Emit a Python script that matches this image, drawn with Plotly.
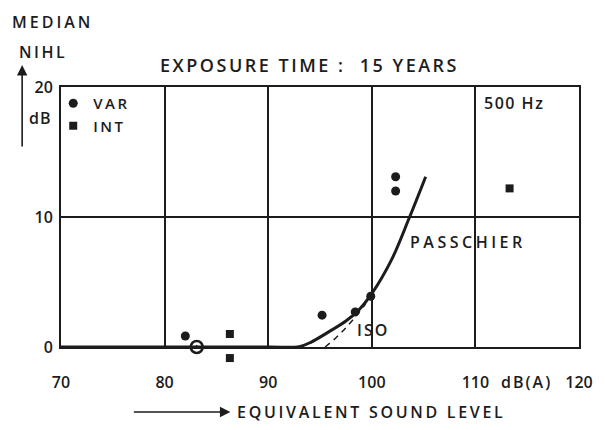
import plotly.graph_objects as go

# Median noise-induced hearing loss at 500 Hz after 15 years of exposure
var_x = [82.0, 95.2, 98.4, 99.9, 102.3, 102.3]
var_y = [0.85, 2.45, 2.7, 3.9, 13.1, 12.0]

int_x = [86.3, 86.3, 113.3]
int_y = [1.0, -0.85, 12.2]

# coinciding VAR/INT observation on the zero line
both_x = [83.1]
both_y = [0.0]

# Passchier prediction curve
passchier_x = [70, 90, 93.0, 94.2, 95.6, 97.5, 98.75, 100.0, 101.9, 103.6, 105.2]
passchier_y = [0, 0, 0.03, 0.4, 1.05, 2.0, 2.85, 4.1, 6.7, 9.9, 13.1]

# ISO prediction curve
iso_x = [95.5, 96.4, 97.3, 98.3, 99.4]
iso_y = [0.0, 0.6, 1.3, 2.2, 3.3]

x_ticks = [70, 80, 90, 100, 110, 120]
y_ticks = [0, 10, 20]

X_RANGE = [70, 120]
Y_RANGE = [0, 20]

INK = "#1c1c1c"
FONT = "Open Sans"
WEIGHT = 600

W, H = 605, 430
LEFT, RIGHT = 61, 581
# Frame occupies the upper part of the plotting area; the strip below the
# frame belongs to an invisible data axis with the same scale, so points
# just under the zero line are still drawn.
PLOT_TOP, FRAME_BOTTOM, AREA_BOTTOM = 87, 347, 369
d = (AREA_BOTTOM - FRAME_BOTTOM) / (AREA_BOTTOM - PLOT_TOP)
y_span = Y_RANGE[1] - Y_RANGE[0]
data_y_range = [Y_RANGE[0] - y_span * d / (1 - d), Y_RANGE[1]]


def px(x):
    return (x - LEFT) / (RIGHT - LEFT)


def py(y):
    return (AREA_BOTTOM - y) / (AREA_BOTTOM - PLOT_TOP)


def spaced(text, sp):
    return f'<span style="letter-spacing:{sp}px">{text}</span>'


fig = go.Figure()

data_axes = dict(xaxis="x2", yaxis="y3")

fig.add_trace(go.Scatter(
    x=passchier_x, y=passchier_y, mode="lines",
    line=dict(color=INK, width=3, shape="spline", smoothing=1.0),
    showlegend=False, hoverinfo="skip", **data_axes,
))
fig.add_trace(go.Scatter(
    x=iso_x, y=iso_y, mode="lines",
    line=dict(color=INK, width=1.5, dash="6px,5px"),
    showlegend=False, hoverinfo="skip", **data_axes,
))
fig.add_trace(go.Scatter(
    x=var_x, y=var_y, mode="markers", name=spaced("VAR", 2.5),
    marker=dict(symbol="circle", size=9, color=INK), **data_axes,
))
fig.add_trace(go.Scatter(
    x=int_x, y=int_y, mode="markers", name=spaced("INT", 2.5),
    marker=dict(symbol="square", size=8, color=INK), **data_axes,
))
fig.add_trace(go.Scatter(
    x=both_x, y=both_y, mode="markers", showlegend=False,
    marker=dict(symbol="circle-open-dot", size=12, color=INK,
                line=dict(color=INK, width=2.5)), **data_axes,
))


def label(text, x, y, size=16, xref="paper", yref="paper",
          xanchor="center", spacing=2.0):
    return dict(text=spaced(text, spacing), xref=xref, yref=yref, x=x, y=y,
                xanchor=xanchor, yanchor="middle", showarrow=False,
                font=dict(size=size))


annotations = [
    label("EXPOSURE TIME :  15 YEARS", px(310), py(65), size=18, spacing=2.5),
    label("MEDIAN", px(10), py(22), xanchor="left", spacing=3.0),
    label("NIHL", px(17), py(52), xanchor="left", spacing=2.5),
    label("dB", px(40), py(118), spacing=1.0),
    label("500 Hz", 110.6, 18.8, size=16, xref="x", yref="y",
          xanchor="left", spacing=1.5),
    label("PASSCHIER", 109.3, 8.1, xref="x", yref="y", spacing=3.5),
    label("ISO", 98.4, 1.3, xref="x", yref="y", xanchor="left", spacing=2.0),
    label("dB(A)", 114.9, py(382), xref="x", spacing=2.0),
    label("EQUIVALENT SOUND LEVEL", px(236), py(412), xanchor="left",
          spacing=2.7),
    # axis direction arrows
    dict(text="", xref="paper", yref="paper", x=px(231), y=py(412),
         ax=-98, ay=0, showarrow=True, arrowhead=2, arrowsize=1.3,
         arrowwidth=1.6, arrowcolor=INK),
    dict(text="", xref="paper", yref="paper", x=px(22), y=py(65),
         ax=0, ay=83, showarrow=True, arrowhead=2, arrowsize=1.3,
         arrowwidth=1.6, arrowcolor=INK),
]

fig.update_layout(
    width=W, height=H,
    margin=dict(l=LEFT, r=W - RIGHT, t=PLOT_TOP, b=H - AREA_BOTTOM),
    paper_bgcolor="white", plot_bgcolor="rgba(0,0,0,0)",
    font=dict(family=FONT, color=INK, weight=WEIGHT),
    annotations=annotations,
    showlegend=True,
    legend=dict(x=-0.015, y=1.0, xanchor="left", yanchor="top",
                bgcolor="rgba(0,0,0,0)", font=dict(size=15),
                itemwidth=30, tracegroupgap=0),
    xaxis=dict(range=X_RANGE, tickvals=x_ticks,
               ticktext=[str(v) for v in x_ticks],
               showgrid=True, gridcolor=INK, gridwidth=1.5,
               showline=True, linecolor=INK, linewidth=2, mirror=True,
               zeroline=False, ticks="", tickfont=dict(size=16),
               ticklabelstandoff=20, fixedrange=True, anchor="y"),
    yaxis=dict(range=Y_RANGE, tickvals=y_ticks, domain=[d, 1],
               ticktext=[str(v) for v in y_ticks],
               showgrid=True, gridcolor=INK, gridwidth=1.5,
               showline=True, linecolor=INK, linewidth=2, mirror=True,
               zeroline=False, ticks="", tickfont=dict(size=16),
               ticklabelstandoff=3, fixedrange=True, anchor="x"),
    xaxis2=dict(range=X_RANGE, domain=[0, 1], anchor="y3", visible=False,
                showgrid=False, zeroline=False, fixedrange=True),
    yaxis3=dict(range=data_y_range, domain=[0, 1], anchor="x2",
                visible=False, showgrid=False, zeroline=False,
                fixedrange=True),
)

fig.write_html("out.html")
